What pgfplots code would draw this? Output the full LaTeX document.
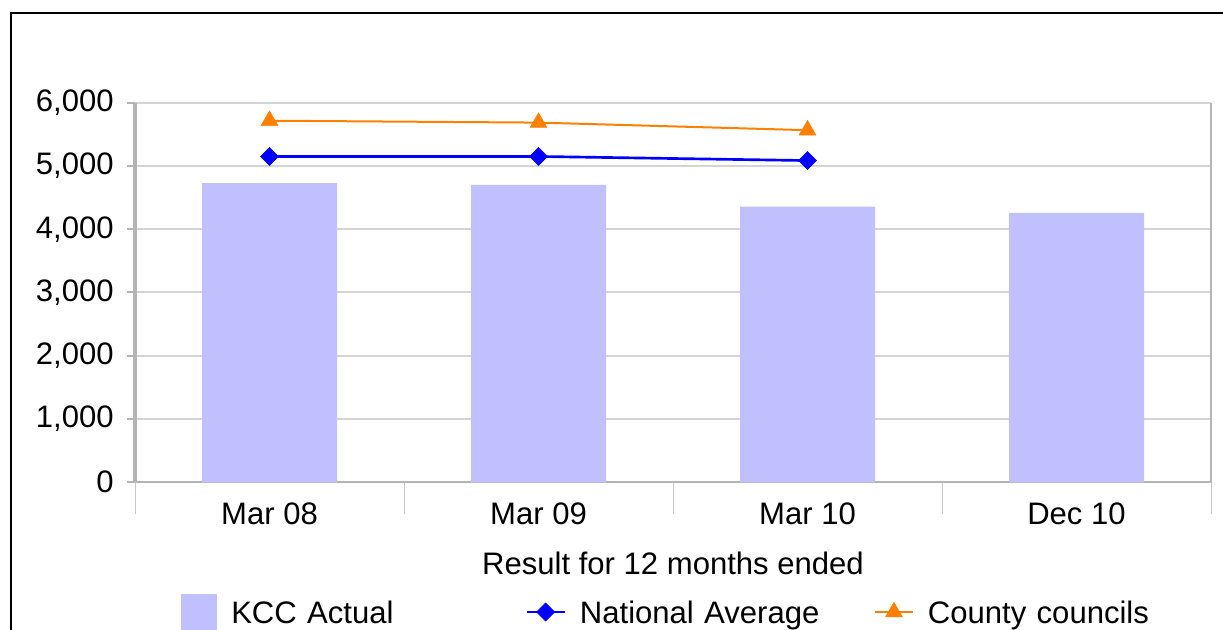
\documentclass[border=0pt]{standalone}
\usepackage{pgfplots}
\pgfplotsset{compat=1.18}
\usepackage{fontspec}
\setmainfont{Liberation Sans}
\definecolor{barc}{HTML}{C0C0FF}
\definecolor{natc}{HTML}{0000FF}
\definecolor{cntc}{HTML}{FF8000}
\definecolor{gridc}{HTML}{D4D4D4}
\definecolor{axc}{HTML}{B4B4B4}
\definecolor{sepc}{HTML}{C8C8C8}
\newcommand{\fs}{\fontsize{23.3pt}{28pt}\selectfont}
\begin{document}
\begin{tikzpicture}
\useasboundingbox (0pt,0pt) rectangle (917.25pt,-472.5pt);
\draw[line width=1.3pt] (8.25pt,-480pt) -- (8.25pt,-9.75pt) -- (925pt,-9.75pt);
\begin{axis}[
  at={(101.25pt,-361.7pt)}, anchor=south west,
  scale only axis, width=807pt, height=284.7pt,
  xmin=-0.5, xmax=3.5, ymin=0, ymax=6000,
  axis lines=left,
  axis line style={-, draw=axc, line width=1.5pt},
  y axis line style={-, line width=2.4pt},
  ytick={0,1000,...,6000},
  ymajorgrids, grid style={draw=gridc, line width=1.5pt},
  tick align=outside, major tick length=6pt,
  ytick style={draw=axc, line width=1.5pt},
  xtick={0,1,2,3}, xticklabels={Mar 08,Mar 09,Mar 10,Dec 10},
  xtick style={draw=none},
  xticklabel style={yshift=-6pt},
  extra x ticks={-0.5,0.5,1.5,2.5,3.5}, extra x tick labels={},
  extra x tick style={grid=none, major tick length=24pt, xtick style={draw=sepc, line width=0.75pt}},
  scaled y ticks=false,
  yticklabel style={xshift=-6.5pt, /pgf/number format/.cd, 1000 sep={,}, assume math mode=true},
  tick label style={font=\fs},
  xlabel={Result for 12 months ended},
  xlabel style={font=\fs, at={(axis description cs:0.5,-0.2126)}, anchor=center},
  legend columns=3,
  legend cell align=left,
  legend style={at={(0.04275,-0.3417)}, anchor=west, draw=none, fill=none, inner sep=0pt, font=\fs,
    /tikz/every odd column/.append style={column sep=10.5pt},
    nodes={text width=220.5pt, align=left, inner xsep=0pt}},
  after end axis/.code={\draw[draw=axc, line width=1.1pt] (rel axis cs:1,0) -- (rel axis cs:1,1);},
]
\addplot[ybar, bar width=101.25pt, fill=barc, draw=none, bar shift=0pt,
  legend image code/.code={\fill[barc] (0pt,-12.5pt) rectangle (27pt,14.5pt);}]
  coordinates {(0,4730) (1,4700) (2,4355) (3,4260)};
\addlegendentry{KCC Actual}
\addplot[natc, line width=2pt, mark=square*, mark size=4.8pt, mark options={rotate=45, solid, line width=0.4pt},
  legend image code/.code={\draw[natc, line width=2pt, mark=square*, mark size=4.8pt, mark options={rotate=45, solid, line width=0.4pt}, mark repeat=2, mark phase=2] plot coordinates {(0pt,1pt)(14.25pt,1pt)(28.5pt,1pt)};}]
  coordinates {(0,5150) (1,5150) (2,5085)};
\addlegendentry{National Average}
\addplot[cntc, line width=1.5pt, mark=triangle*, mark size=7.3pt, mark options={solid, line width=0.4pt},
  legend image code/.code={\draw[cntc, line width=1.5pt, mark=triangle*, mark size=7.3pt, mark options={solid, line width=0.4pt}, mark repeat=2, mark phase=2] plot coordinates {(0pt,1pt)(14.25pt,1pt)(28.5pt,1pt)};}]
  coordinates {(0,5715) (1,5685) (2,5565)};
\addlegendentry{County councils}
\end{axis}
\end{tikzpicture}
\end{document}
